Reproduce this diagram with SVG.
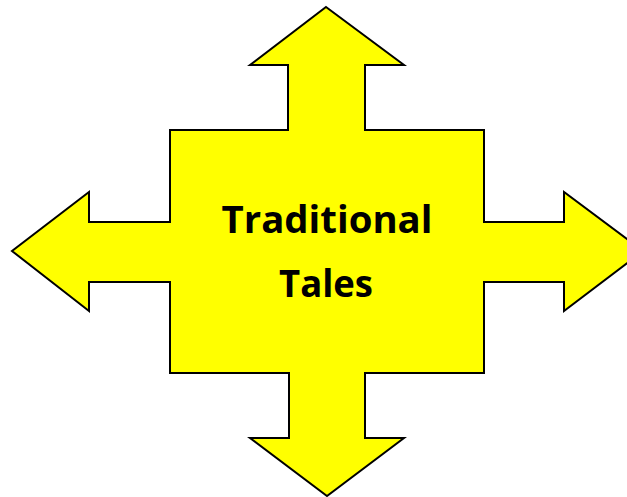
<svg xmlns="http://www.w3.org/2000/svg" width="627" height="497" viewBox="0 0 627 497">
<style>
.shape{fill:#ffff00;stroke:#000;stroke-width:2;stroke-linejoin:miter}
.label{font-family:"Open Sans","Liberation Sans",sans-serif;font-weight:bold;font-size:38px;fill:#000;text-anchor:middle}
</style>
<rect width="627" height="497" fill="#fff"/>
<g id="cross">
<polygon class="shape" points="326,7 404,65 365,65 365,130 484,130 484,222 564,222 564,192 643,251 564,311 564,282 484,282 484,373 365,373 365,438 404,438 327,496 250,438 289,438 289,373 170,373 170,282 89,282 89,311 12,251 89,192 89,222 170,222 170,130 288,130 288,65 250,65"/>
<text class="label" x="327" y="233" textLength="211" lengthAdjust="spacingAndGlyphs">Traditional</text>
<text class="label" x="326" y="297" textLength="94" lengthAdjust="spacingAndGlyphs">Tales</text>
</g>
<g id="connectors"></g>
</svg>
